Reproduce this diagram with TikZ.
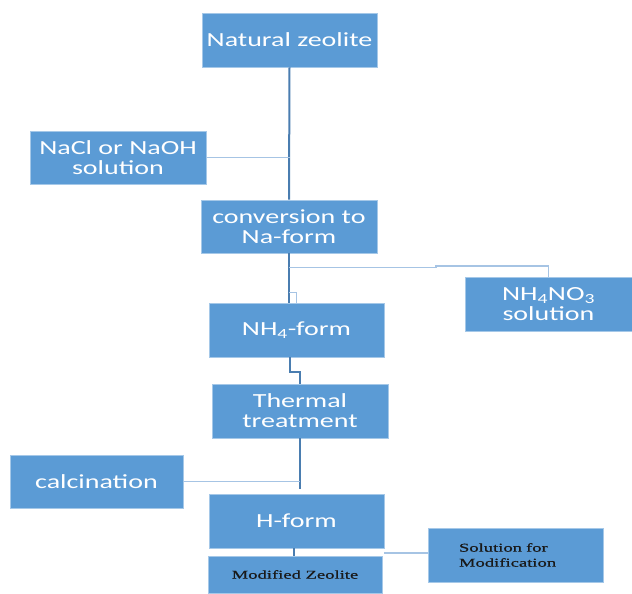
\documentclass[tikz,border=0pt]{standalone}
\usepackage{fontspec}
\setmainfont{Carlito}[FakeStretch=1.4]
\newfontfamily\modfont{Liberation Serif}[FakeStretch=1.55,FakeBold=0.8]
\usetikzlibrary{positioning}

\definecolor{boxblue}{HTML}{5B9BD5}
\definecolor{darkline}{HTML}{4A7DB0}
\definecolor{lightline}{HTML}{A6C4E4}

\begin{document}
\begin{tikzpicture}[x=1pt,y=-1pt,
  stepbox/.style={rectangle, fill=boxblue, draw=boxblue!55!white, line width=0.6pt,
    text=white, align=center, inner sep=0pt,
    font=\fontsize{20}{20}\selectfont},
  modbox/.style={stepbox, text=black!90, font=\modfont\fontsize{12}{15}\selectfont},
  mainline/.style={draw=darkline, line width=2pt},
  sideline/.style={draw=lightline, line width=1.6pt}]
\useasboundingbox (0,0) rectangle (632,594);

% boxes
\node[stepbox, minimum width=175, minimum height=54] (natural) at (289.5,40) {Natural zeolite};
\node[stepbox, minimum width=176, minimum height=53] (nacl) at (118,157.5) {NaCl or NaOH\\solution};
\node[stepbox, minimum width=176, minimum height=53] (conversion) at (289,226.5) {conversion to\\Na-form};
\node[stepbox, minimum width=167, minimum height=54] (nhsol) at (548.5,304) {NH\textsubscript{4}NO\textsubscript{3}\\solution};
\node[stepbox, minimum width=175, minimum height=54] (nhform) at (296.5,330) {NH\textsubscript{4}-form};
\node[stepbox, minimum width=176, minimum height=54] (thermal) at (300,411) {Thermal\\treatment};
\node[stepbox, minimum width=173, minimum height=53] (calcination) at (96.5,481.5) {calcination};
\node[stepbox, minimum width=175, minimum height=54] (hform) at (296.5,521) {H-form};
\node[modbox, minimum width=174, minimum height=37] (modified) at (295,574.5) {Modified Zeolite};
\node[modbox, minimum height=54, text width=113, inner xsep=31, align=left] (solmod) at (515.5,555) {Solution for\\Modification};

% connectors
\coordinate (j1) at (natural.south |- nacl.east);
\draw[mainline] (natural.south) -- (conversion.north);
\draw[sideline] (nacl.east) -- (j1);

\coordinate (j2) at ([yshift=-14pt]conversion.south);
\coordinate (j3) at ([yshift=-39pt]conversion.south);
\draw[mainline] (conversion.south) -- (conversion.south |- nhform.north);
\draw[sideline, line width=1.2pt] (j3) -| (nhform.north);
\draw[sideline] (j2) -- ++(147,0) -- ++(0,-1.5) -| (nhsol.north);

\coordinate (j4) at ([xshift=-6.5pt]nhform.south);
\draw[mainline] (j4) -- ++(0,15) -| (thermal.north);

\coordinate (j5) at ([yshift=5pt]thermal.south |- hform.north);
\draw[mainline, line width=1.6pt] (thermal.south) -- (j5);
\draw[sideline] (calcination.east) -- (calcination.east -| thermal.south);

\draw[mainline] ([xshift=-2.5pt]hform.south) -- ([xshift=-2.5pt]hform.south |- modified.north);
\draw[sideline] ([yshift=2pt]solmod.west) -- ([yshift=2pt]solmod.west -| hform.east);
\end{tikzpicture}
\end{document}
